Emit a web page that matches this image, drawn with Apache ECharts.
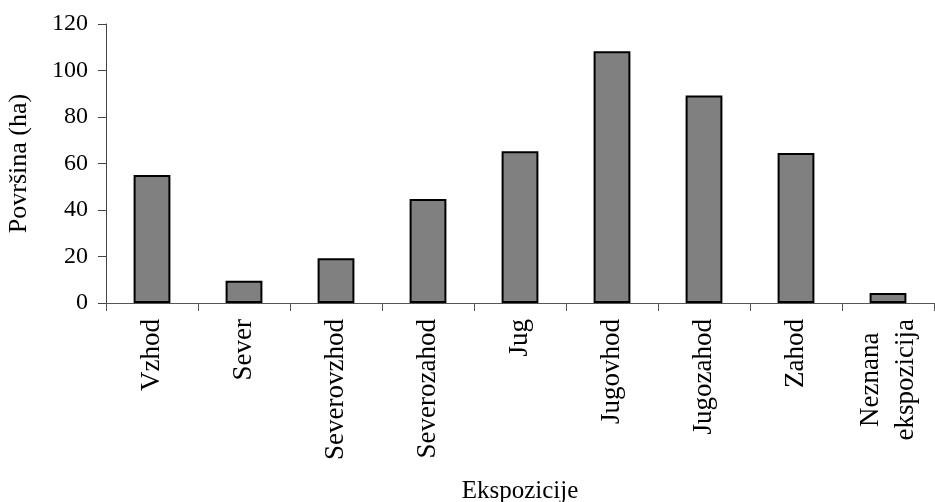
<!DOCTYPE html>
<html>
<head>
<meta charset="utf-8">
<script src="https://cdn.jsdelivr.net/npm/echarts@6/dist/echarts.min.js"></script>
<style>
  html, body { margin: 0; padding: 0; background: #fff; }
  #chart { width: 935px; height: 502px; }
</style>
</head>
<body>
<div id="chart"></div>
<script>
// Površina po ekspozicijah (ha)
const categories = ['Vzhod', 'Sever', 'Severovzhod', 'Severozahod', 'Jug', 'Jugovhod', 'Jugozahod', 'Zahod', 'Neznana\nekspozicija'];
const areaValues = [55.1, 9.6, 19.2, 44.7, 65.3, 108.3, 89.3, 64.5, 4.3];
const yTicks = { min: 0, max: 120, interval: 20 };

const FONT = '"Liberation Serif", "Times New Roman", serif';

const chart = echarts.init(document.getElementById('chart'), null, { renderer: 'canvas' });
chart.setOption({
  animation: false,
  backgroundColor: '#ffffff',
  grid: { left: 106, right: 1, top: 24, bottom: 199, containLabel: false, outerBoundsMode: 'none' },
  xAxis: {
    type: 'category',
    data: categories,
    name: 'Ekspozicije',
    nameLocation: 'middle',
    nameGap: 176,
    nameTextStyle: { fontFamily: FONT, fontSize: 25, color: '#000' },
    axisLine: { lineStyle: { color: '#555', width: 1 } },
    axisTick: { show: true, length: 8, lineStyle: { color: '#555' } },
    axisLabel: {
      rotate: 90,
      margin: 16,
      interval: 0,
      fontFamily: FONT,
      fontSize: 27,
      color: '#000',
      formatter: v => v.split('\n').map(s => '{c|' + s + '}').join('\n'),
      rich: { c: { align: 'center', fontFamily: FONT, fontSize: 27, lineHeight: 35, color: '#000' } }
    }
  },
  yAxis: {
    type: 'value',
    min: yTicks.min,
    max: yTicks.max,
    interval: yTicks.interval,
    name: 'Površina (ha)',
    nameLocation: 'middle',
    nameGap: 74,
    nameTextStyle: { fontFamily: FONT, fontSize: 26, color: '#000' },
    axisLine: { show: true, lineStyle: { color: '#444', width: 1 } },
    axisTick: { show: true, length: 8, lineStyle: { color: '#444' } },
    axisLabel: { margin: 18, fontFamily: FONT, fontSize: 24, color: '#000' },
    splitLine: { show: false }
  },
  series: [{
    type: 'bar',
    data: areaValues,
    barWidth: '40%',
    itemStyle: { color: '#808080', borderColor: '#000', borderWidth: 2 }
  }]
});
</script>
</body>
</html>
